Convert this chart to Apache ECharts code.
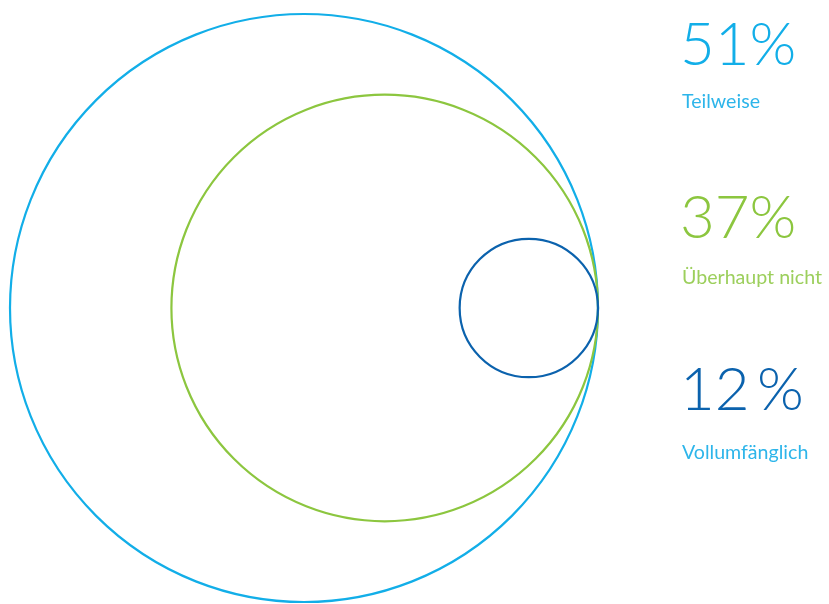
<!DOCTYPE html>
<html>
<head>
<meta charset="utf-8">
<script src="https://cdn.jsdelivr.net/npm/echarts@6/dist/echarts.min.js"></script>
<style>
  html, body { margin: 0; padding: 0; background: #ffffff; }
  #chart { width: 829px; height: 604px; }
</style>
</head>
<body>
<div id="chart"></div>
<script>
// Share of responses, one nested circle each (radius proportional to share)
const categories = ['Teilweise', 'Überhaupt nicht', 'Vollumfänglich'];
const shares = [51, 37, 12];
const valueLabels = ['51%', '37%', '12\u2009%'];
const circleColors = ['#12aee8', '#8cc63f', '#0b62ad'];
const numberColors = ['#12aee8', '#8cc63f', '#0b62ad'];
const nameColors = ['#2db5ea', '#9ccf5c', '#2db5ea'];

const FONT = 'Lato, "Open Sans", sans-serif';
const chart = echarts.init(document.getElementById('chart'));

// Circles all touch the same point on the right (x = 0);
// each center sits one radius to the left of it.
const circleData = shares.map((v, i) => [-v, 0, v, i]);
const maxSpan = shares[0] * 2;

// Side legend: big percentage with the category name below it
const numberTop = [16, 189, 361];
const nameTop = [92, 268, 443];
const graphics = [];
shares.forEach((v, i) => {
  graphics.push({
    type: 'text', left: 680, top: numberTop[i],
    style: { text: valueLabels[i], fill: numberColors[i], font: '300 60px ' + FONT }
  });
  graphics.push({
    type: 'text', left: 682, top: nameTop[i],
    style: { text: categories[i], fill: nameColors[i], font: '400 19.6px ' + FONT }
  });
});

chart.setOption({
  animation: false,
  grid: { left: 10, width: 588, top: 14, height: 588 },
  xAxis: { type: 'value', min: -maxSpan, max: 0, show: false },
  yAxis: { type: 'value', min: -shares[0], max: shares[0], show: false },
  graphic: graphics,
  series: [{
    type: 'custom',
    coordinateSystem: 'cartesian2d',
    data: circleData,
    encode: { x: 0, y: 1 },
    renderItem: function (params, api) {
      const c = api.coord([api.value(0), api.value(1)]);
      const r = api.size([api.value(2), 0])[0];
      return {
        type: 'circle',
        shape: { cx: c[0], cy: c[1], r: r },
        style: { fill: 'none', stroke: circleColors[api.value(3)], lineWidth: 2.2 }
      };
    }
  }]
});
</script>
</body>
</html>
